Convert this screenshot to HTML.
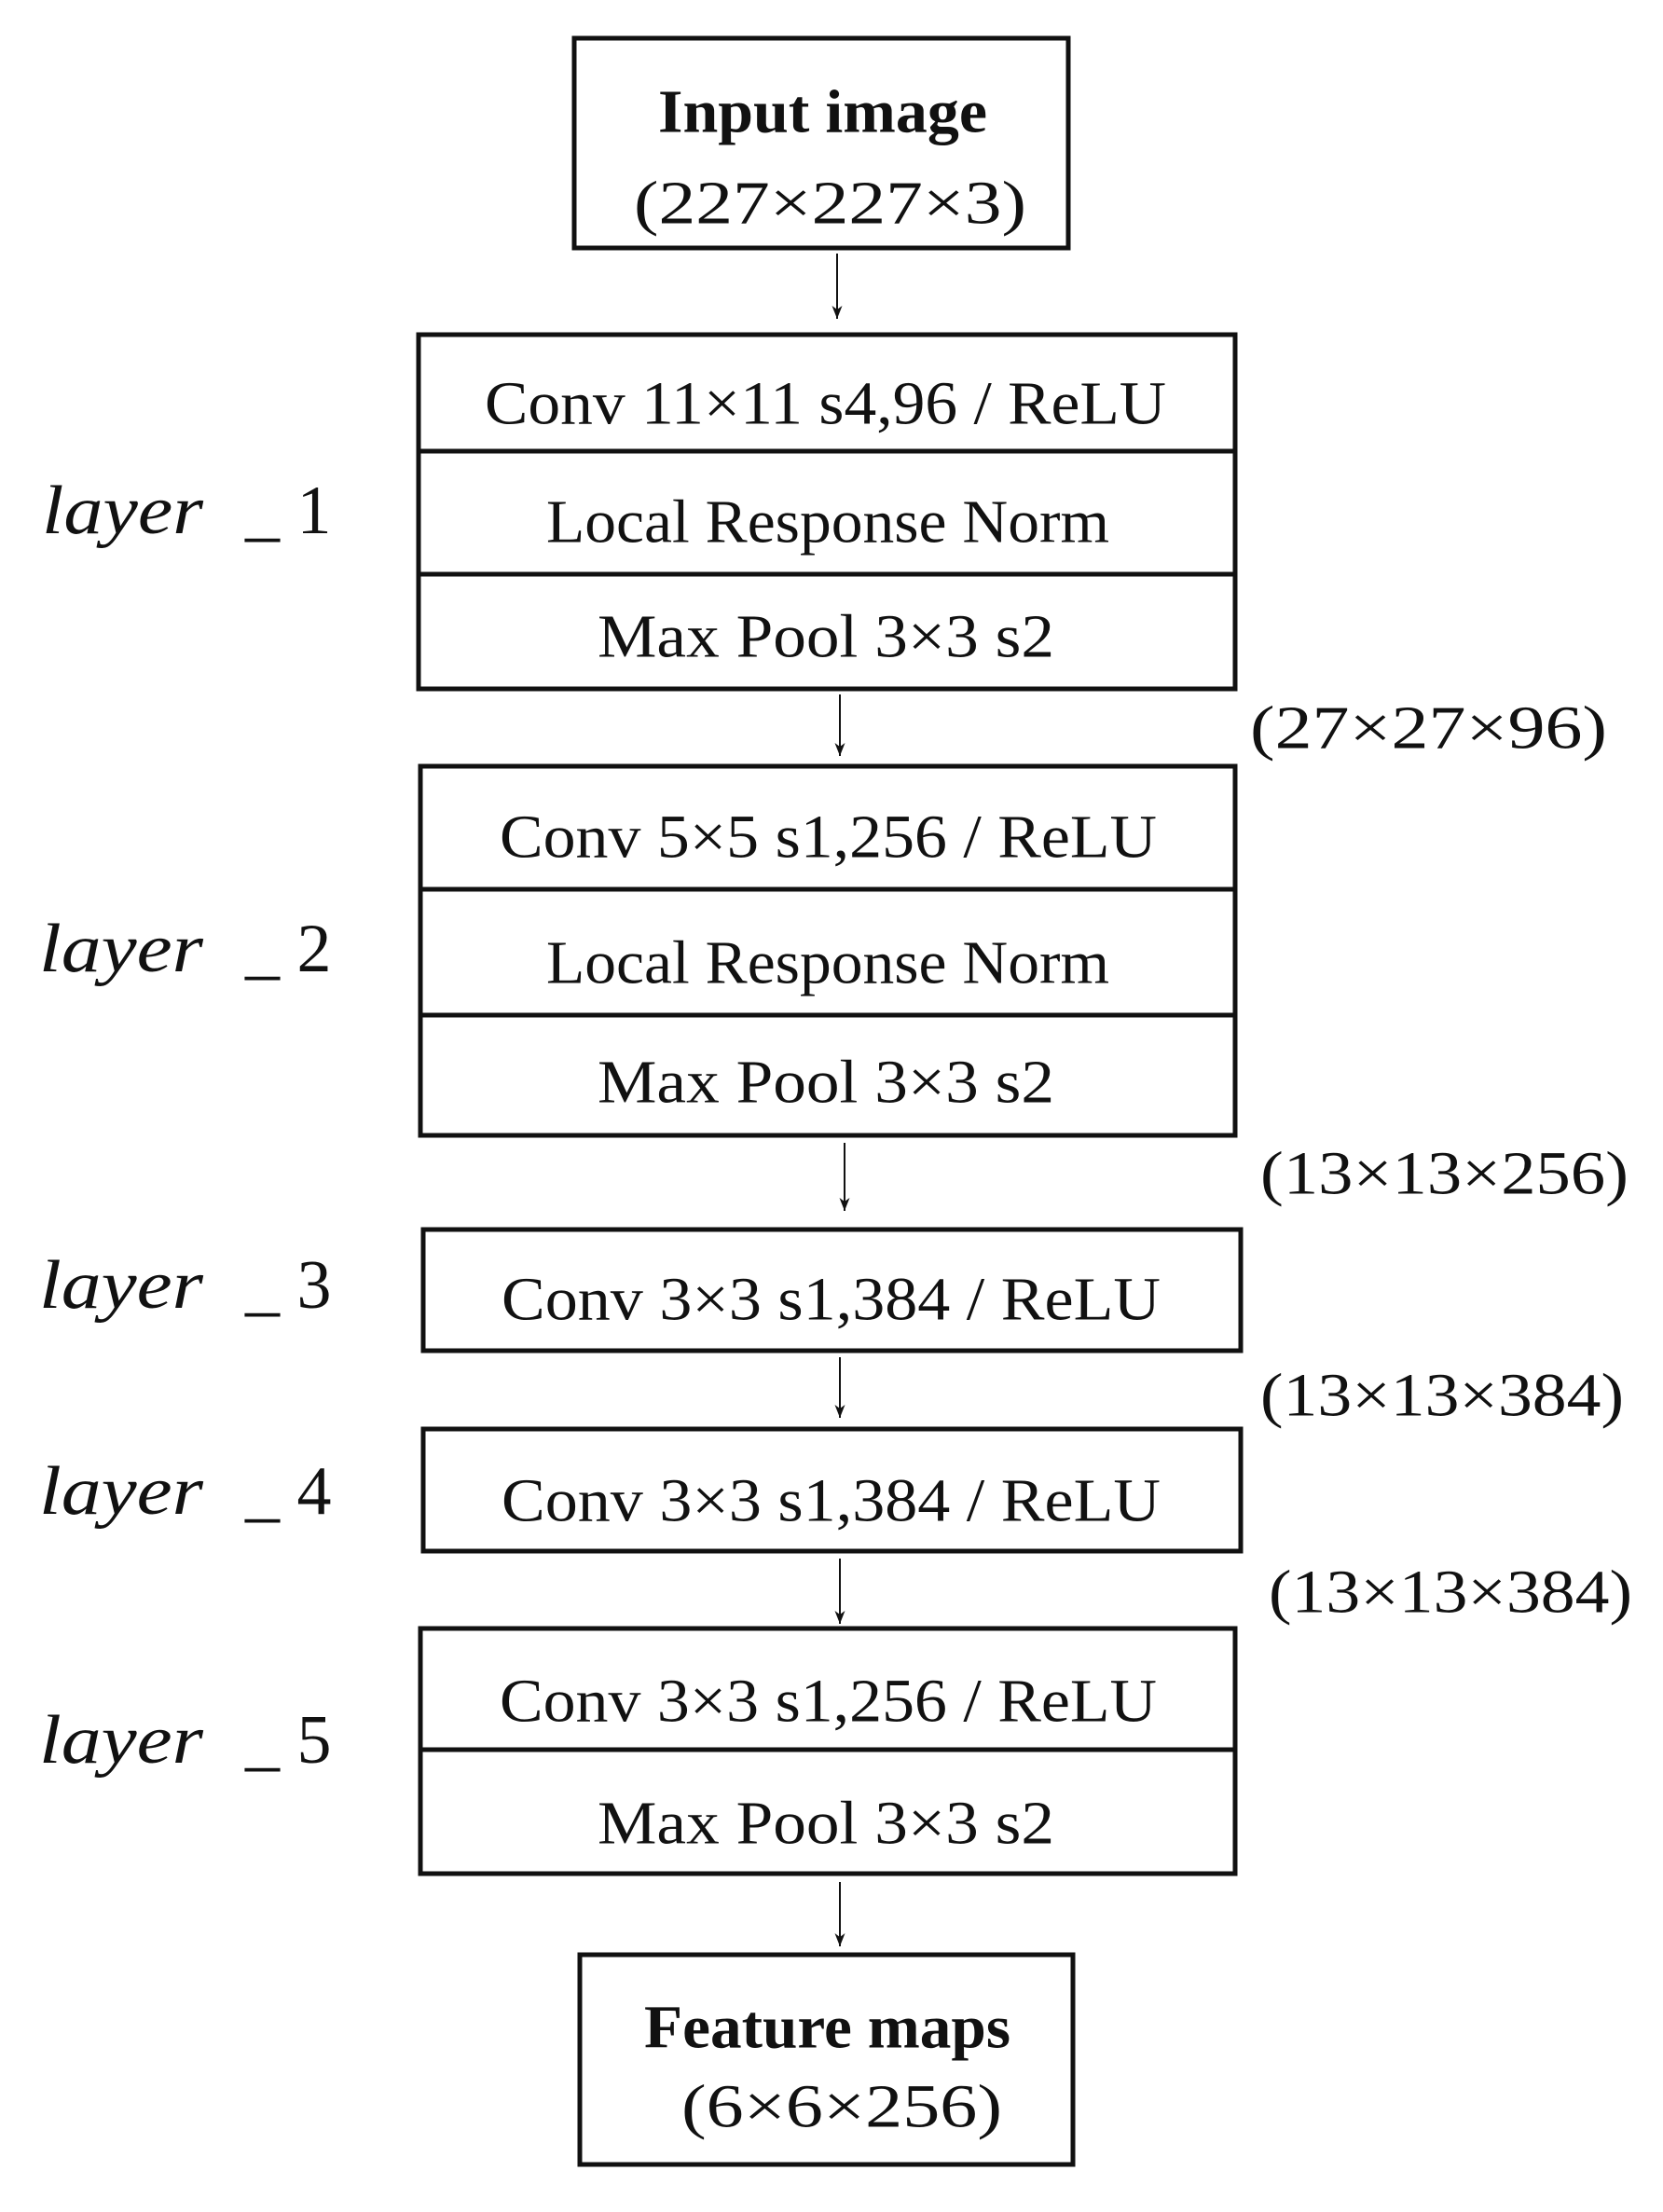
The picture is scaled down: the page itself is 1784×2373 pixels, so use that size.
<!DOCTYPE html>
<html><head><meta charset="utf-8"><style>
html,body{margin:0;padding:0;background:#fff;}
svg{display:block;}
text{font-family:"Liberation Serif",serif;fill:#111;}
.x{font-family:"Noto Serif CJK SC","Liberation Serif",serif;}
</style></head><body>
<svg width="1784" height="2373" viewBox="0 0 1784 2373" xmlns="http://www.w3.org/2000/svg">
<defs>
<marker id="b" markerWidth="16" markerHeight="12" refX="15" refY="6" orient="auto" markerUnits="userSpaceOnUse"><path d="M1,0.5 L15,6 L1,11.5 L5,6 Z" fill="#111"/></marker></defs>
<g fill="none" stroke="#111" stroke-width="5">
<rect x="616" y="41" width="530" height="225"/>
<rect x="449" y="359" width="876" height="380"/>
<line x1="449" y1="484" x2="1325" y2="484"/><line x1="449" y1="616" x2="1325" y2="616"/>
<rect x="451" y="822" width="874" height="396"/>
<line x1="451" y1="954" x2="1325" y2="954"/><line x1="451" y1="1089" x2="1325" y2="1089"/>
<rect x="454" y="1319" width="877" height="130"/>
<rect x="454" y="1533" width="877" height="131"/>
<rect x="451" y="1747" width="874" height="263"/>
<line x1="451" y1="1877" x2="1325" y2="1877"/>
<rect x="622" y="2097" width="529" height="225"/>
</g>
<g stroke="#111" stroke-width="2" marker-end="url(#b)">
<line x1="898" y1="272" x2="898" y2="342"/>
<line x1="901" y1="745" x2="901" y2="811"/>
<line x1="906" y1="1226" x2="906" y2="1299"/>
<line x1="901" y1="1456" x2="901" y2="1521"/>
<line x1="901" y1="1672" x2="901" y2="1742"/>
<line x1="901" y1="2019" x2="901" y2="2088"/>
</g>
<g font-size="66" dominant-baseline="central">
<text x="706" y="120" font-weight="bold" textLength="353" lengthAdjust="spacingAndGlyphs">Input image</text>
<text x="680" y="218" textLength="421" lengthAdjust="spacingAndGlyphs">(227×227×3)</text>
<text x="520" y="433" textLength="731" lengthAdjust="spacingAndGlyphs">Conv 11×11 s4,96 / ReLU</text>
<text x="586" y="560" textLength="604" lengthAdjust="spacingAndGlyphs">Local Response Norm</text>
<text x="641" y="683" textLength="490" lengthAdjust="spacingAndGlyphs">Max Pool 3×3 s2</text>
<text x="1341" y="781" textLength="383" lengthAdjust="spacingAndGlyphs">(27×27×96)</text>
<text x="536" y="898" textLength="705" lengthAdjust="spacingAndGlyphs">Conv 5×5 s1,256 / ReLU</text>
<text x="586" y="1033" textLength="604" lengthAdjust="spacingAndGlyphs">Local Response Norm</text>
<text x="641" y="1161" textLength="490" lengthAdjust="spacingAndGlyphs">Max Pool 3×3 s2</text>
<text x="1352" y="1259" textLength="395" lengthAdjust="spacingAndGlyphs">(13×13×256)</text>
<text x="538" y="1394" textLength="707" lengthAdjust="spacingAndGlyphs">Conv 3×3 s1,384 / ReLU</text>
<text x="1352" y="1497" textLength="390" lengthAdjust="spacingAndGlyphs">(13×13×384)</text>
<text x="538" y="1610" textLength="707" lengthAdjust="spacingAndGlyphs">Conv 3×3 s1,384 / ReLU</text>
<text x="1361" y="1708" textLength="390" lengthAdjust="spacingAndGlyphs">(13×13×384)</text>
<text x="536" y="1825" textLength="705" lengthAdjust="spacingAndGlyphs">Conv 3×3 s1,256 / ReLU</text>
<text x="641" y="1956" textLength="490" lengthAdjust="spacingAndGlyphs">Max Pool 3×3 s2</text>
<text x="691" y="2175" font-weight="bold" textLength="393" lengthAdjust="spacingAndGlyphs">Feature maps</text>
<text x="731" y="2260" textLength="344" lengthAdjust="spacingAndGlyphs">(6×6×256)</text>
</g>
<g font-size="74" dominant-baseline="central">
<text x="45" y="548" font-style="italic" textLength="173" lengthAdjust="spacingAndGlyphs">layer</text><text x="263" y="548">_ 1</text>
<text x="42" y="1018" font-style="italic" textLength="176" lengthAdjust="spacingAndGlyphs">layer</text><text x="263" y="1018">_ 2</text>
<text x="42" y="1379" font-style="italic" textLength="176" lengthAdjust="spacingAndGlyphs">layer</text><text x="263" y="1379">_ 3</text>
<text x="42" y="1600" font-style="italic" textLength="176" lengthAdjust="spacingAndGlyphs">layer</text><text x="263" y="1600">_ 4</text>
<text x="42" y="1867" font-style="italic" textLength="176" lengthAdjust="spacingAndGlyphs">layer</text><text x="263" y="1867">_ 5</text>
</g>
</svg>
</body></html>
